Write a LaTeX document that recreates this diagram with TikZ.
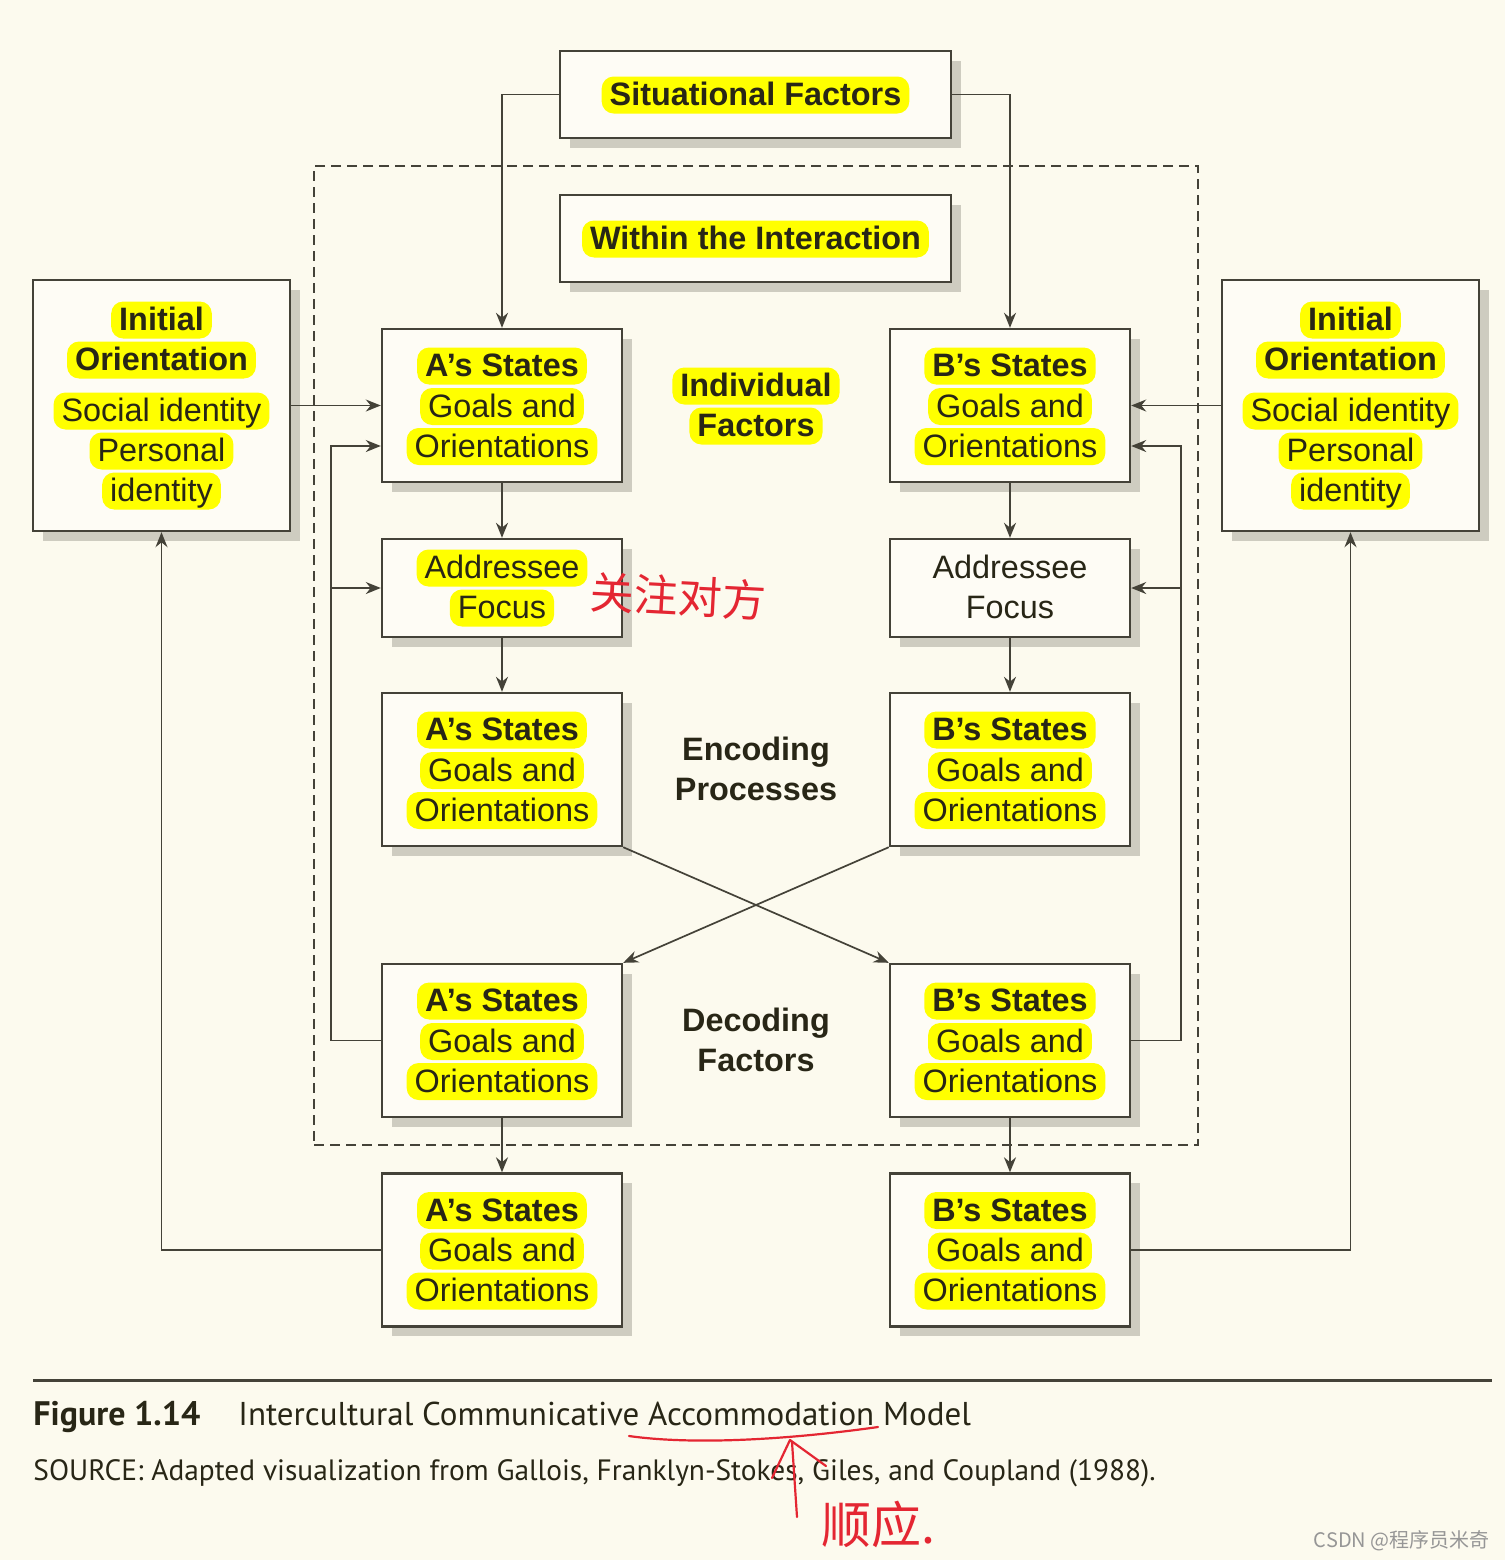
\documentclass[tikz,border=0pt]{standalone}
\usepackage{fontspec}
\setmainfont{Liberation Sans}
\newfontfamily\capfont{PT Sans}
\newfontfamily\cjk{Noto Sans CJK SC}
\usetikzlibrary{arrows.meta,shadows,calc}
\definecolor{bg}{RGB}{252,250,238}
\definecolor{boxfill}{RGB}{254,252,245}
\definecolor{shade}{RGB}{206,204,192}
\definecolor{lin}{RGB}{68,66,56}
\definecolor{txt}{RGB}{40,38,22}
\definecolor{hly}{RGB}{255,255,0}
\definecolor{pen}{RGB}{228,38,50}
\definecolor{wm}{RGB}{150,150,150}
\begin{document}
\begin{tikzpicture}[x=0.5pt,y=-0.5pt,
  box/.style={draw=lin, line width=1.2pt, fill=boxfill, inner sep=0pt,
    drop shadow={shadow xshift=4.75pt, shadow yshift=-4.75pt, fill=shade, opacity=1}},
  sbox/.style={box, minimum width=195.5pt, minimum height=43.5pt},
  ibox/.style={box, minimum width=128.5pt, minimum height=125.5pt},
  abox/.style={box, minimum width=120pt, minimum height=76.5pt},
  fbox/.style={box, minimum width=120pt, minimum height=49pt},
  lbl/.style={font=\fontsize{16.2}{19}\selectfont, text=txt, inner xsep=4pt, inner ysep=1pt,
    text height=13.5pt, text depth=3pt},
  blbl/.style={lbl, font=\fontsize{16.2}{19}\selectfont\bfseries},
  hl/.style={lbl, fill=hly, rounded corners=6pt},
  hlb/.style={blbl, fill=hly, rounded corners=6pt},
  arr/.style={draw=lin, line width=0.85pt, -{Stealth[length=7.5pt,width=6pt]}},
  dashbox/.style={draw=lin, line width=0.75pt, dash pattern=on 5pt off 3pt, inner sep=0pt,
    minimum width=442pt, minimum height=489.5pt},
  penline/.style={draw=pen, line width=1.1pt, line cap=round, line join=round},
]
\useasboundingbox (0,0) rectangle (1505,1560);
\fill[bg] (0,0) rectangle (1505,1560);

% dashed interaction frame
\node[dashbox] (frame) at (756,655.5) {};

% top boxes
\node[sbox] (sit) at (755.5,94.5) {};
\node[hlb] (sitt) at (755.5,95) {Situational Factors};
\node[sbox] (within) at (755.5,238.5) {};
\node[hlb] (withint) at (755.5,239) {Within the Interaction};

% initial orientation boxes
\foreach \s/\x in {L/161.5, R/1350.5} {
  \node[ibox] (init\s) at (\x,405.5) {};
  \node[hlb] (init\s a) at (\x,320) {Initial};
  \node[hlb] (init\s b) at (\x,360) {Orientation};
  \node[hl] (init\s c) at (\x,411) {Social identity};
  \node[hl] (init\s d) at (\x,451) {Personal};
  \node[hl] (init\s e) at (\x,491) {identity};
}

% state boxes
\foreach \k/\y in {1/405.5, 2/769.5, 3/1040.5, 4/1250} {
  \node[abox] (A\k) at (502,\y) {};
  \node[hlb] (A\k a) at (502,\y-39.5) {A’s States};
  \node[hl] (A\k b) at (502,\y+1) {Goals and};
  \node[hl] (A\k c) at (502,\y+41) {Orientations};
  \node[abox] (B\k) at (1010,\y) {};
  \node[hlb] (B\k a) at (1010,\y-39.5) {B’s States};
  \node[hl] (B\k b) at (1010,\y+1) {Goals and};
  \node[hl] (B\k c) at (1010,\y+41) {Orientations};
}

% addressee focus
\node[fbox] (AF) at (502,588) {};
\node[hl] (AFa) at (502,568) {Addressee};
\node[hl] (AFb) at (502,608) {Focus};
\node[fbox] (BF) at (1010,588) {};
\node[lbl] (BFa) at (1010,568) {Addressee};
\node[lbl] (BFb) at (1010,608) {Focus};

% centre labels
\node[hlb] (ind1) at (756,386) {Individual};
\node[hlb] (ind2) at (756,426) {Factors};
\node[blbl] (enc1) at (756,750) {Encoding};
\node[blbl] (enc2) at (756,790) {Processes};
\node[blbl] (dec1) at (756,1021) {Decoding};
\node[blbl] (dec2) at (756,1061) {Factors};

% connectors
\draw[arr] (sit.west) -| (A1.north);
\draw[arr] (sit.east) -| (B1.north);
\draw[arr] (initL.east) -- (A1.west);
\draw[arr] (initR.west) -- (B1.east);
\draw[arr] (A1.south) -- (AF.north);
\draw[arr] (AF.south) -- (A2.north);
\draw[arr] (B1.south) -- (BF.north);
\draw[arr] (BF.south) -- (B2.north);
\draw[arr] (A2.south east) -- (B3.north west);
\draw[arr] (B2.south west) -- (A3.north east);
\coordinate (lbus) at (331,446);
\coordinate (rbus) at (1181,446);
\draw[arr] (A3.west) -| (lbus) -- (A1.west |- lbus);
\draw[arr] (lbus |- AF.west) -- (AF.west);
\draw[arr] (B3.east) -| (rbus) -- (B1.east |- rbus);
\draw[arr] (rbus |- BF.east) -- (BF.east);
\draw[arr] (A3.south) -- (A4.north);
\draw[arr] (B3.south) -- (B4.north);
\draw[arr] (A4.west) -| (initL.south);
\draw[arr] (B4.east) -| (initR.south);

% caption
\draw[draw=lin, line width=1.5pt] (33,1380) -- (1492,1380);
\node[anchor=base west, inner sep=0pt, text=txt, font=\capfont\bfseries\fontsize{17}{20}\selectfont] (fig) at (33,1425) {Figure 1.14};
\node[anchor=base west, inner sep=0pt, text=txt, font=\capfont\fontsize{16.5}{19}\selectfont] (title) at (238,1425) {Intercultural Communicative Accommodation Model};
\node[anchor=base west, inner sep=0pt, text=txt, font=\capfont\fontsize{14.7}{17}\selectfont] (src) at (33,1480) {SOURCE: Adapted visualization from Gallois, Franklyn-Stokes, Giles, and Coupland (1988).};

% handwritten notes
\node[text=pen, font=\cjk\fontsize{22}{22}\selectfont, rotate=-3] (note1) at (678,596) {关注对方};
\draw[penline] (629,1436) .. controls (700,1446) and (800,1438) .. (878,1427);
\draw[penline] (797,1517) -- (792,1442);
\draw[penline] (772,1478) -- (790,1440) -- (826,1466);
\node[text=pen, font=\cjk\fontsize{25}{25}\selectfont] (note2) at (878,1524) {顺应.};

% watermark
\node[anchor=east, text=wm, inner sep=0pt, font=\cjk\fontsize{10}{10}\selectfont] (wmk) at (1490,1541) {CSDN @程序员米奇};
\end{tikzpicture}
\end{document}
